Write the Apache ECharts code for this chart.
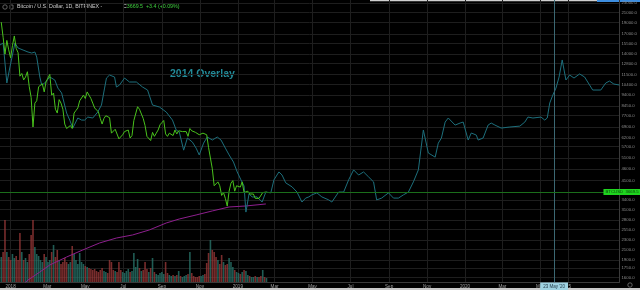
<!DOCTYPE html>
<html><head><meta charset="utf-8">
<script src="https://cdn.jsdelivr.net/npm/echarts@6/dist/echarts.min.js"></script>
<style>html,body{margin:0;padding:0;background:#000;}#c{width:640px;height:290px;}</style>
</head><body><div id="c"></div>
<script>
// ---- data ----
const priceStart = [2017, 12, 17];   // first daily sample of BTCUSD (Bitfinex)
const priceStepDays = 3;             // one sample every 3 days
const btcClose = [19100,16500,14000,16000,14600, 13500,15200,16700,14800,14200, 11300,11600,10900,11200,11800,
  10200,9200,6900,8700,8900, 10200,10400,10500,9700,10700, 11100,11500,9400,9600,8200,
  7900,9000,8700,8200,7100, 6800,6800,7000,6800,7900, 8100,8300,8900,8900,9400,
  9100,9700,9400,9100,8700, 8300,8200,8000,7500,7100, 7500,7700,7650,7550,6500,
  6450,6750,6700,6150,6100, 6400,6600,6600,6700,6200, 6350,7350,7400,8400,8200,
  8200,7500,7000,6300,6300, 6050,6550,6300,6500,6700, 7050,7200,7350,6450,6300,
  6500,6500,6350,6700,6450, 6650,6600,6600,6600,6600, 6300,6800,6650,6600,6550,
  6500,6400,6450,6500,6450, 6400,5650,5650,4600,3900, 3850,4050,3900,3550,3650,
  3450,3200,3700,4000,4100, 3700,3900,3900,3850,4050, 3650,3650,3700,3600,3600,
  3600,3450,3500,3450,3400, 3650,3600,3669.5];
const btcVolume = [50,60,124,60,50, 44,56,48,52,44, 98,60,44,48,40, 56,94,124,70,56,
  52,44,40,56,50, 40,44,60,74,50, 64,44,36,40,48, 40,36,40,72,56, 44,36,58,40,36,
  32,30,28,26,24, 26,22,20,24,28, 22,20,18,44,40, 24,22,20,40,24, 20,18,22,26,20,
  22,58,30,46,28, 22,24,40,26,20, 28,48,20,16,14, 18,20,16,40,18, 14,12,14,12,14,
  22,12,10,12,14, 16,60,18,12,10, 10,12,12,14,16, 38,58,84,64,60, 50,44,36,54,40,
  34,36,48,40,30, 24,20,18,16,20, 24,22,14,12,10, 10,12,10,10,12, 24,10,8];
const overlayDates = ['2017-12-15','2017-12-20','2017-12-26','2017-12-31','2018-01-05','2018-01-08','2018-01-13','2018-01-21','2018-01-29','2018-02-04',
  '2018-02-09','2018-02-12','2018-02-17','2018-02-20','2018-02-25','2018-03-05','2018-03-13','2018-03-18','2018-03-24','2018-04-01',
  '2018-04-06','2018-04-11','2018-04-14','2018-04-19','2018-04-25','2018-04-30','2018-05-05','2018-05-13','2018-05-21','2018-05-27',
  '2018-06-01','2018-06-04','2018-06-09','2018-06-17','2018-06-20','2018-06-25','2018-07-03','2018-07-11','2018-07-22','2018-08-01',
  '2018-08-09','2018-08-17','2018-08-28','2018-09-08','2018-09-18','2018-09-24','2018-09-29','2018-10-06','2018-10-12','2018-10-20',
  '2018-10-26','2018-10-31','2018-11-07','2018-11-13','2018-11-21','2018-11-29','2018-12-05','2018-12-12','2018-12-18','2018-12-25',
  '2018-12-31','2019-01-06','2019-01-11','2019-01-14','2019-01-19','2019-01-24','2019-02-01','2019-02-09','2019-02-15','2019-02-23',
  '2019-02-28','2019-03-08','2019-03-13','2019-03-19','2019-03-29','2019-04-06','2019-04-14','2019-04-20','2019-04-25','2019-04-30',
  '2019-05-08','2019-05-16','2019-05-27','2019-06-01','2019-06-12','2019-06-20','2019-06-28','2019-07-06','2019-07-14','2019-07-22',
  '2019-07-30','2019-08-07','2019-08-12','2019-08-20','2019-08-31','2019-09-08','2019-09-16','2019-09-24','2019-10-02','2019-10-10',
  '2019-10-18','2019-10-26','2019-11-03','2019-11-14','2019-11-19','2019-11-24','2019-11-30','2019-12-05','2019-12-16','2019-12-24',
  '2019-12-29','2020-01-06','2020-01-11','2020-01-19','2020-01-22','2020-01-30','2020-02-07','2020-02-12','2020-02-18','2020-02-28',
  '2020-03-13','2020-03-29','2020-04-06','2020-04-11','2020-04-19','2020-05-02','2020-05-08','2020-05-12','2020-05-16','2020-05-21',
  '2020-05-26','2020-05-31','2020-06-05','2020-06-11','2020-06-17','2020-06-24','2020-07-03','2020-07-11','2020-07-16','2020-07-24',
  '2020-08-06','2020-08-14','2020-08-20','2020-08-27','2020-09-05'];
const overlayValues = [15300,15600,10580,12360,14290,15600,14860,14570,14290,14150,
  14290,13610,11210,10370,10580,11210,10890,10070,9600,7900,
  7380,6830,6700,7530,7380,7380,7600,7530,7980,8540,
  10070,11100,11430,11210,10170,10370,11100,10680,10680,10170,
  9880,8540,8380,7980,7380,6700,6570,5510,6200,5960,
  5620,5260,5900,6260,6080,6260,6080,5620,5260,4910,
  4460,4130,3890,3020,3600,3500,3500,3330,3670,3640,
  4130,4460,4330,4010,3860,3670,3330,3460,3500,3570,
  3640,3500,3400,3330,3670,3670,4130,4550,4330,4460,
  4250,4050,3400,3460,3640,3460,3460,3570,3670,4050,
  4550,6700,5360,5150,5900,6200,7240,7530,7030,7170,
  7240,6080,6510,6380,6080,6200,7030,7170,7030,6830,
  6900,6960,7240,7600,7530,7600,7380,7530,8710,9410,
  10070,11210,13230,10890,11430,11100,11550,11210,10680,9880,
  9880,10580,10780,10470,10370];
const maDates = ['2018-01-24','2018-01-29','2018-02-17','2018-03-05','2018-04-01','2018-04-27','2018-05-24','2018-06-20','2018-07-16',
  '2018-08-12','2018-09-08','2018-09-29','2018-10-26','2018-11-21','2018-12-18','2019-01-14','2019-02-15'];
const maValues = [1518,1562,1688,1807,1953,2091,2238,2348,2419,2540,2717,2825,2937,3054,3174,3205,3268];
const yTicks = [1600,1750,1900,2100,2300,2550,2800,3100,3400,4100,4600,5100,5700,6200,6900,7700,8450,9400,10400,11500,12800,14000,15500,17000,19000,21000,23000];
const xTickDates = ['2018-01-01','2018-03-01','2018-05-01','2018-07-01','2018-09-01','2018-11-01','2019-01-01','2019-03-01','2019-05-01',
  '2019-07-01','2019-09-01','2019-11-01','2020-01-01','2020-03-01','2020-05-01','2020-06-15'];
const xTickLabels = ['2018','Mar','May','Jul','Sep','Nov','2019','Mar','May','Jul','Sep','Nov','2020','Mar','May','15'];
const cursorDate = '2020-05-23';
const cursorLabel = "23 May '20";
const lastChange = '+3.4 (+0.09%)';

// ---- build ----
function pd(s){const p=s.split('-').map(Number);return new Date(p[0],p[1]-1,p[2]).getTime();}
const priceTimes = btcClose.map((_, i) => new Date(priceStart[0], priceStart[1]-1, priceStart[2] + i*priceStepDays).getTime());
const lastClose = btcClose[btcClose.length-1];
const xTickTimes = xTickDates.map(pd);
const xLabelMap = {}; xTickTimes.forEach((t,i)=>xLabelMap[t]=xTickLabels[i]);

const chart = echarts.init(document.getElementById('c'), null, {renderer:'canvas'});
const gridCol = '#1e1e1e';
const FF = 'Liberation Sans, Arial, sans-serif';
chart.setOption({
  backgroundColor:'#000000',
  animation:false,
  grid:{left:0,right:18,top:0,bottom:8,containLabel:false},
  xAxis:{type:'value',min:pd('2017-12-15'),max:pd('2020-09-05'),scale:true,
    axisLine:{show:true,onZero:false,lineStyle:{color:'#3a3a3a',width:1}},
    axisTick:{show:false,customValues:xTickTimes},
    axisLabel:{customValues:xTickTimes,formatter:v=>xLabelMap[v]||'',color:'#a0a0a0',fontSize:4.6,margin:2,fontFamily:FF},
    splitLine:{show:true,lineStyle:{color:gridCol,width:1}}},
  yAxis:[{type:'log',logBase:10,min:1532,max:23680,position:'right',
    axisLine:{show:true,lineStyle:{color:'#3a3a3a',width:1}},
    axisTick:{show:false,customValues:yTicks},
    axisLabel:{customValues:yTicks,formatter:v=>Number(v).toFixed(1),color:'#8c8c8c',fontSize:4.3,margin:2,fontFamily:FF},
    splitLine:{show:true,lineStyle:{color:gridCol,width:1}}},
   {type:'value',min:0,max:564,show:false,splitLine:{show:false}}],
  series:[
    {name:'Volume',type:'bar',xAxisIndex:0,yAxisIndex:1,barWidth:1.6,silent:true,
     data:priceTimes.map((t,i)=>({value:[t,btcVolume[i]],itemStyle:{color:(i>0&&btcClose[i]<btcClose[i-1])?'rgba(150,55,55,0.8)':'rgba(40,115,105,0.8)'}}))},
    {name:'MA',type:'line',showSymbol:false,symbol:'none',silent:true,
     lineStyle:{color:'#8e1f8e',width:1},data:maDates.map((s,i)=>[pd(s),maValues[i]])},
    {name:'2014 Overlay',type:'line',showSymbol:false,symbol:'none',silent:true,
     lineStyle:{color:'#1d6f7c',width:1},data:overlayDates.map((s,i)=>[pd(s),overlayValues[i]]),
     markLine:{silent:true,symbol:['none','none'],animation:false,
       lineStyle:{color:'#3b6873',width:1,type:'solid'},
       label:{show:true,position:'start',formatter:cursorLabel,backgroundColor:'#9fd3e2',color:'#1d3442',fontSize:4.5,padding:[1.5,3],distance:0.5,fontFamily:FF},
       data:[{xAxis:pd(cursorDate)}]}},
    {name:'BTCUSD',type:'line',showSymbol:false,symbol:'none',silent:true,
     lineStyle:{color:'#49c21c',width:1},data:priceTimes.map((t,i)=>[t,btcClose[i]]),
     markLine:{silent:true,symbol:['none','none'],animation:false,
       lineStyle:{color:'#1b6e1b',width:1,type:'solid'},
       label:{show:true,position:'end',formatter:'BTCUSD  '+lastClose.toFixed(1),backgroundColor:'#1fd41f',color:'#0b3d0b',fontSize:4.3,padding:[1,2],distance:-16,fontFamily:FF},
       data:[{yAxis:lastClose}]}}
  ],
  graphic:[
    {type:'rect',shape:{x:370,y:0,width:228,height:1.2},style:{fill:'#cfcfcf'},silent:true},
    {type:'rect',shape:{x:597,y:0,width:43,height:2},style:{fill:'#3d8ee0'},silent:true},
    {type:'rect',shape:{x:0,y:288,width:640,height:2},style:{fill:'#c8c8c8'},silent:true},
    {type:'circle',shape:{cx:630,cy:285,r:2.2},style:{fill:'none',stroke:'#777',lineWidth:0.8},silent:true},
    {type:'circle',shape:{cx:5,cy:7,r:2.2},style:{fill:'none',stroke:'#777',lineWidth:0.8},silent:true},
    {type:'rect',shape:{x:10,y:5,width:3,height:4},style:{fill:'none',stroke:'#777',lineWidth:0.8},silent:true},
    {type:'text',left:17,top:4.3,silent:true,style:{text:'Bitcoin / U.S. Dollar, 1D, BITFINEX -',fill:'#d0d0d0',font:'5.3px "Liberation Sans", Arial, sans-serif'}},
    {type:'text',left:123,top:4.3,silent:true,style:{text:'{c|C}{g|'+lastClose.toFixed(1)+'  '+lastChange+'}',
      rich:{c:{fill:'#d0d0d0',font:'5.3px "Liberation Sans", Arial, sans-serif'},g:{fill:'#3fd13f',font:'5.3px "Liberation Sans", Arial, sans-serif'}}}},
    {type:'text',left:170,top:69,silent:true,style:{text:'2014 Overlay',fill:'#238b99',font:'bold 10.5px "Liberation Sans", Arial, sans-serif'}}
  ]
});
</script></body></html>
